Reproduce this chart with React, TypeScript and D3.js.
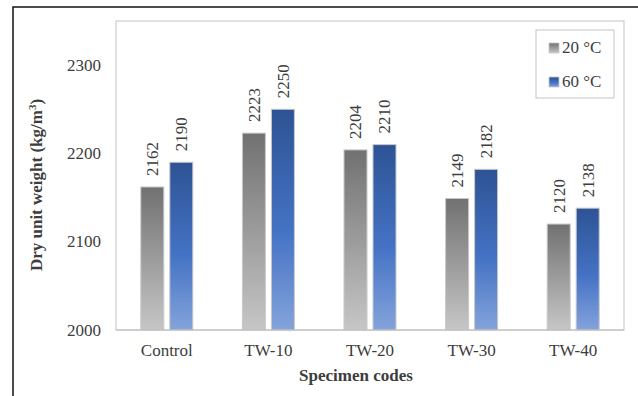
import React from "react";
import * as d3 from "d3";

const categories = ["Control", "TW-10", "TW-20", "TW-30", "TW-40"];
const series = ["20 °C", "60 °C"];
const values20 = [2162, 2223, 2204, 2149, 2120];
const values60 = [2190, 2250, 2210, 2182, 2138];
const yTicks = [2000, 2100, 2200, 2300];

const W = 638;
const H = 396;
const plot = { left: 116, right: 624, top: 21, bottom: 330 };
const FONT = "'Liberation Serif', 'Times New Roman', serif";
const TEXT = "#3d3d3d";

export default function App() {
  const x = d3.scaleBand<string>().domain(categories).range([plot.left, plot.right]).padding(0);
  const inner = d3.scaleBand<string>().domain(series).range([-26, 26]).paddingInner(6 / 29).paddingOuter(0);
  const y = d3.scaleLinear().domain([2000, 2350]).range([plot.bottom, plot.top]);
  const data = [values20, values60];
  const grads = ["gGray", "gBlue"];

  return (
    <svg width={W} height={H} style={{ position: "absolute", left: 0, top: 0, background: "#fff" }} fontFamily={FONT}>
      <defs>
        <linearGradient id="gGray" x1="0" y1="0" x2="0" y2="1">
          <stop offset="0" stopColor="#717171" />
          <stop offset="1" stopColor="#c6c6c6" />
        </linearGradient>
        <linearGradient id="gBlue" x1="0" y1="0" x2="0" y2="1">
          <stop offset="0" stopColor="#2d5394" />
          <stop offset="0.55" stopColor="#4472c4" />
          <stop offset="1" stopColor="#84a3db" />
        </linearGradient>
      </defs>
      <rect x={0} y={0} width={W} height={H} fill="#fff" />
      {/* outer frame */}
      <rect x={13} y={7} width={W} height={H} fill="none" stroke="#111" strokeWidth={1.5} />
      {/* plot area */}
      <rect x={plot.left} y={plot.top} width={plot.right - plot.left} height={plot.bottom - plot.top} fill="none" stroke="#c4c4c4" strokeWidth={1} />
      {/* y tick labels */}
      {yTicks.map((t) => (
        <text key={t} x={101} y={y(t)} dy="0.33em" textAnchor="end" fontSize={17} fill={TEXT}>
          {t}
        </text>
      ))}
      {/* bars */}
      {categories.map((c, i) => (
        <g key={c}>
          {series.map((s, j) => {
            const v = data[j][i];
            const bx = (x(c) as number) + x.bandwidth() / 2 + (inner(s) as number);
            const bw = inner.bandwidth();
            const top = y(v);
            return (
              <g key={s}>
                <rect x={bx} y={top} width={bw} height={plot.bottom - top} fill={`url(#${grads[j]})`} stroke="#c8c8c8" strokeWidth={1} />
                <text
                  transform={`translate(${bx + bw / 2},${top - 11}) rotate(-90)`}
                  dy="0.35em"
                  textAnchor="start"
                  fontSize={17}
                  fill={TEXT}
                >
                  {v}
                </text>
              </g>
            );
          })}
        </g>
      ))}
      {/* x axis line */}
      <line x1={plot.left} x2={plot.right} y1={plot.bottom} y2={plot.bottom} stroke="#bdbdbd" strokeWidth={1} />
      {/* x labels */}
      {categories.map((c) => (
        <text key={c} x={(x(c) as number) + x.bandwidth() / 2} y={356} textAnchor="middle" fontSize={17} fill={TEXT}>
          {c}
        </text>
      ))}
      {/* axis titles */}
      <text x={356} y={381} textAnchor="middle" fontSize={17} fontWeight="bold" fill={TEXT}>
        Specimen codes
      </text>
      <text transform={`translate(42,185) rotate(-90)`} textAnchor="middle" fontSize={17} fontWeight="bold" fill={TEXT}>
        Dry unit weight (kg/m<tspan dy="-6" fontSize={11}>3</tspan><tspan dy="6">)</tspan>
      </text>
      {/* legend */}
      <rect x={536} y={30} width={78} height={68} fill="#fff" stroke="#c4c4c4" strokeWidth={1} />
      {series.map((s, j) => (
        <g key={s} transform={`translate(549,${43 + j * 34})`}>
          <rect x={0} y={0} width={10} height={10} fill={`url(#${grads[j]})`} stroke="#c8c8c8" strokeWidth={0.8} />
          <text x={13} y={10} fontSize={17} fill={TEXT}>
            {s}
          </text>
        </g>
      ))}
    </svg>
  );
}
